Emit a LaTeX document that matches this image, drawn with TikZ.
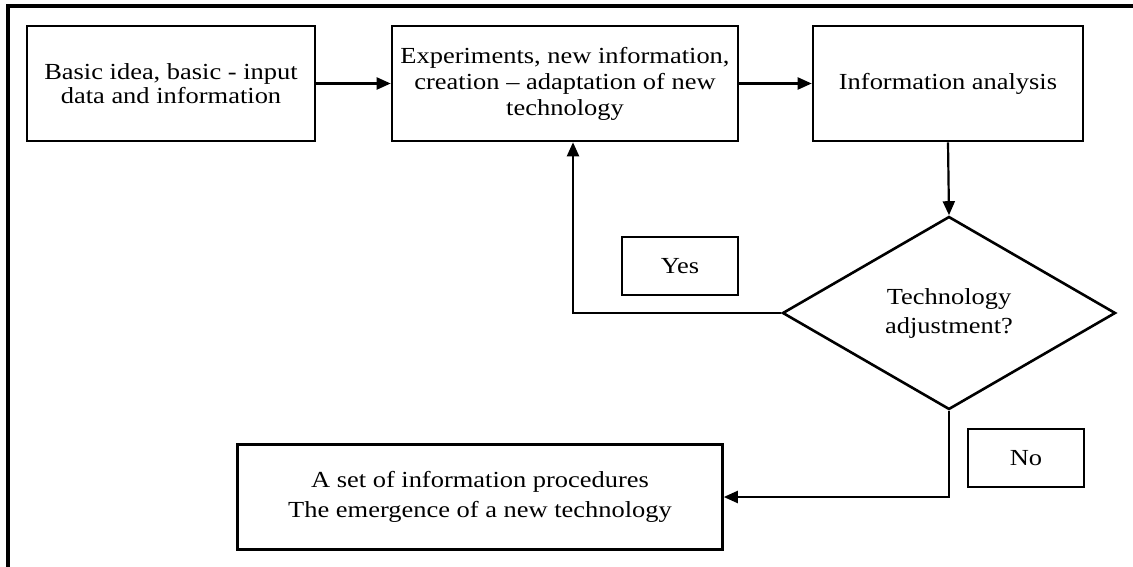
\documentclass[tikz,border=0pt]{standalone}
\usepackage{fontspec}
\setmainfont{Liberation Serif}[FakeStretch=1.15]
\usepackage{tikz}
\usetikzlibrary{arrows.meta, shapes.geometric}

\begin{document}
\begin{tikzpicture}[x=1pt, y=-1pt,
  procbox/.style={draw, line width=2.6pt, inner sep=2pt, align=center, font=\fontsize{23}{#1}\selectfont},
  procbox/.default=26,
  labelbox/.style={draw, line width=1.8pt, minimum width=116pt, minimum height=58pt, font=\fontsize{23}{26}\selectfont},
  decision/.style={draw, diamond, line width=2.6pt, inner sep=0pt, align=center, font=\fontsize{23}{29}\selectfont},
  flow/.style={line width=2.2pt, -{Triangle[length=14pt, width=12pt]}}]
\useasboundingbox (0,0) rectangle (1133,567);

% outer frame
\draw[line width=3.4pt] (1133,6) -- (8,6) -- (8,567);

\node[procbox=24, minimum width=288pt, minimum height=115pt] (idea) at (171,83.5) {Basic idea, basic - input\\data and information};
\node[procbox=26, minimum width=346pt, minimum height=115pt] (exper) at (565,83.5) {Experiments, new information,\\creation -- adaptation of new\\technology};
\node[procbox, minimum width=270pt, minimum height=115pt] (analysis) at (948,83.5) {Information analysis};
\node[decision, minimum width=333pt, minimum height=193pt] (adjust) at (949,313) {Technology\\adjustment?};
\node[labelbox] (yes) at (680,266) {Yes};
\node[labelbox] (no) at (1026,458) {No};
\node[procbox=30, minimum width=485pt, minimum height=105pt] (result) at (480,497) {A set of information procedures\\The emergence of a new technology};

\draw[flow] (idea.east) -- (exper.west);
\draw[flow] (exper.east) -- (analysis.west);
\draw[flow] (analysis.south) -- (adjust.north);
\draw[flow] (adjust.west) -| ([xshift=8pt]exper.south);
\draw[flow] (adjust.south) |- (result.east);
\end{tikzpicture}
\end{document}
